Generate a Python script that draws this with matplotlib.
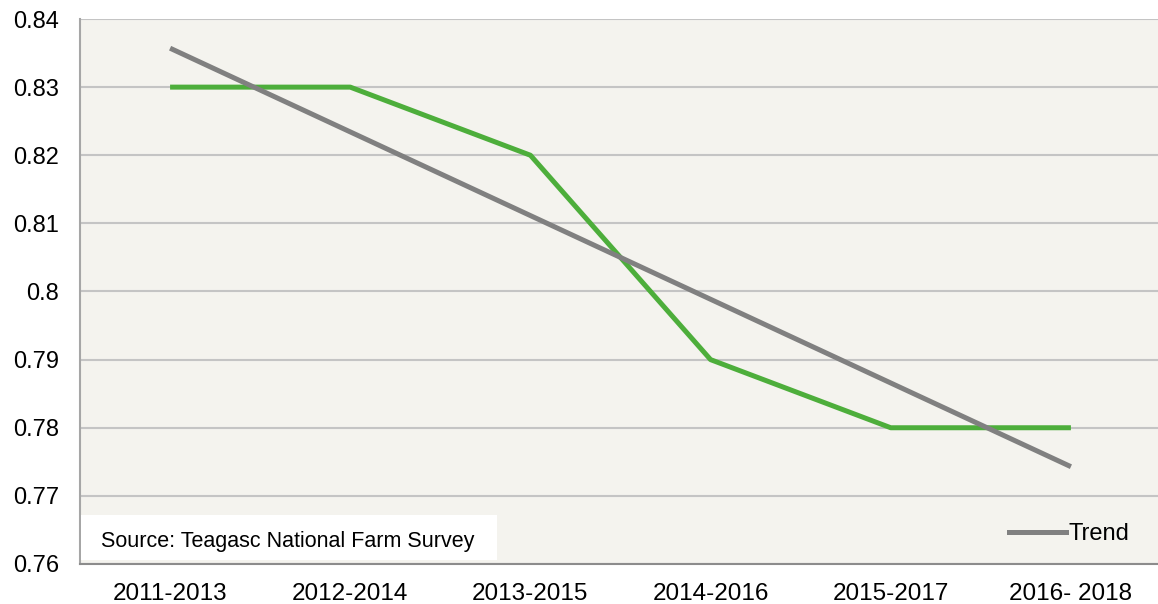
import matplotlib
matplotlib.use("Agg")
import matplotlib.pyplot as plt
from matplotlib.patches import Rectangle
from matplotlib.lines import Line2D
import numpy as np

categories = ["2011-2013", "2012-2014", "2013-2015", "2014-2016", "2015-2017", "2016- 2018"]
values = [0.83, 0.83, 0.82, 0.79, 0.78, 0.78]
yticks = [0.76, 0.77, 0.78, 0.79, 0.80, 0.81, 0.82, 0.83, 0.84]
ytick_labels = ["0.76", "0.77", "0.78", "0.79", "0.8", "0.81", "0.82", "0.83", "0.84"]
source_text = "Source: Teagasc National Farm Survey"

plt.rcParams['font.family'] = ['Liberation Sans', 'DejaVu Sans']

fig = plt.figure(figsize=(11.58, 6.04), dpi=100)
ax = fig.add_axes([80/1158, 40/604, 1081/1158, 545/604])
ax.set_facecolor("#F4F3EE")

x = np.arange(len(categories))
coef = np.polyfit(x, values, 1)
trend = np.polyval(coef, x)

ax.plot(x, values, color="#4DAE3B", lw=3.6, solid_capstyle="butt", zorder=3)
ax.plot(x, trend, color="#808080", lw=3.6, solid_capstyle="butt", zorder=4)

ax.set_xlim(-0.5, len(categories) - 0.5)
ax.set_ylim(0.76, 0.84)
ax.set_yticks(yticks)
ax.set_yticklabels(ytick_labels)
ax.set_xticks(x)
ax.set_xticklabels(categories)
ax.tick_params(axis="both", length=0)
ax.tick_params(axis="y", pad=15, labelsize=17)
ax.tick_params(axis="x", pad=14, labelsize=17.5)

ax.grid(axis="y", color="#C4C4C4", lw=1.5)
ax.set_axisbelow(True)
for s in ["top", "right"]:
    ax.spines[s].set_visible(False)
ax.spines["left"].set_color("#A6A6A6")
ax.spines["left"].set_linewidth(1.5)
ax.spines["bottom"].set_color("#8C8C8C")
ax.spines["bottom"].set_linewidth(1.5)

ax.add_patch(Rectangle((0.001, 0.007), 0.385, 0.083, transform=ax.transAxes,
                       facecolor="white", edgecolor="none", zorder=5))
ax.text(0.0195, 0.041, source_text, transform=ax.transAxes, fontsize=15.5,
        va="center", ha="left", zorder=6)

handle = Line2D([], [], color="#808080", lw=3.6)
leg = ax.legend([handle], ["Trend"], loc="center right", frameon=False, fontsize=17,
                handlelength=2.4, handletextpad=0.1, bbox_to_anchor=(0.99, 0.055))

fig.savefig("out.png", dpi=100)
